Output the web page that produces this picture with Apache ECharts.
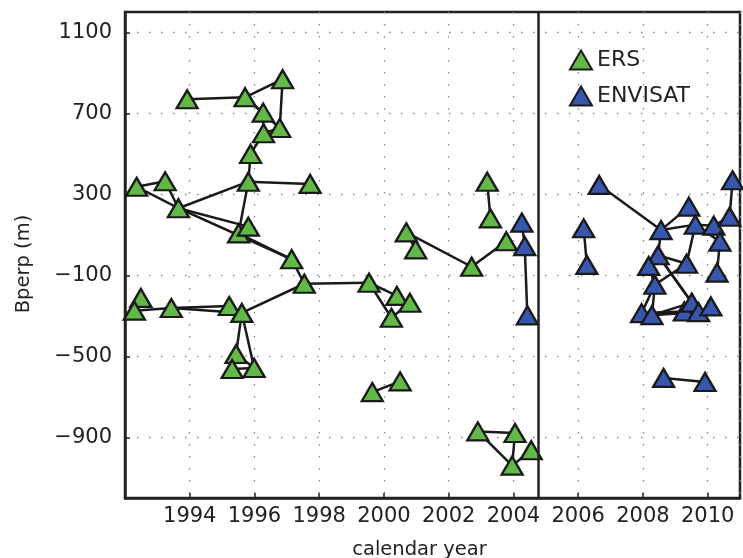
<!DOCTYPE html>
<html>
<head>
<meta charset="utf-8">
<script src="https://cdn.jsdelivr.net/npm/echarts@6/dist/echarts.min.js"></script>
<style>
html,body{margin:0;padding:0;background:#fff;}
#chart{width:743px;height:558px;}
</style>
</head>
<body>
<div id="chart"></div>
<script>
// ERS acquisitions: calendar year and perpendicular baseline (m)
const ersYear = [1992.36,1993.24,1993.65,1993.92,1995.71,1996.87,1996.27,1996.78,1996.28,1995.88,
                 1995.81,1997.72,1995.51,1995.81,1997.15,1997.54,1999.54,2000.40,2000.80,2000.23,
                 1992.49,1992.29,1993.43,1995.22,1995.61,1995.43,1995.31,1995.99,1999.64,2000.50,
                 2000.69,2000.98,2002.71,2003.78,2003.19,2003.29,2002.90,2004.05,2003.96,2004.55];
const ersBperp = [337,364,231,769,779,868,703,627,601,499,
                  362,351,107,140,-21,-142,-137,-202,-236,-310,
                  -212,-275,-262,-252,-286,-489,-563,-558,-677,-624,
                  112,28,-58,68,362,181,-871,-879,-1040,-964];
// interferometric pairs (indices into the ERS arrays)
const ersEdges = [[3,4],[4,5],[5,7],[4,6],[4,7],[6,8],[8,7],[8,9],[9,10],[10,11],[10,2],[10,12],
                  [0,1],[0,2],[1,2],[2,13],[2,14],[12,14],[14,15],[15,16],[15,24],[16,17],[16,19],
                  [19,18],[21,20],[21,22],[22,23],[22,24],[23,24],[24,25],[24,27],[25,27],[26,27],
                  [28,29],[30,31],[30,32],[32,33],[34,35],[36,37],[36,38],[37,38],[38,39]];

// ENVISAT acquisitions
const envYear = [2004.26,2004.35,2004.43,2006.65,2006.17,2006.27,2008.56,2009.42,2009.62,2010.19,
                 2010.38,2010.77,2010.68,2010.29,2008.47,2008.18,2009.35,2008.37,2007.96,2008.28,
                 2009.28,2009.51,2009.72,2010.10,2008.64,2009.92];
const envBperp = [160,44,-298,346,132,-49,123,239,150,145,
                  66,369,189,-87,-1,-54,-43,-147,-287,-297,
                  -279,-235,-282,-254,-607,-627];
const envEdges = [[0,1],[1,2],[3,6],[4,5],[6,7],[6,8],[8,9],[8,10],[9,10],[9,12],[12,11],[10,13],
                  [8,16],[6,14],[14,16],[14,15],[14,21],[14,22],[16,17],[15,17],[17,18],[17,19],
                  [18,20],[19,20],[19,22],[19,21],[20,21],[22,23],[24,25]];

const sensorSwitchYear = 2004.76;
const yTicks = [-900,-500,-100,300,700,1100];
const seriesNames = ['ERS','ENVISAT'];

const font = 'DejaVu Sans';
const ink = '#222';

function pts(xs, ys){ return xs.map((x,i)=>[x, ys[i]]); }
function edges(xs, ys, e){ return e.map(([a,b])=>({coords:[[xs[a],ys[a]],[xs[b],ys[b]]]})); }

const lineData = edges(ersYear, ersBperp, ersEdges).concat(edges(envYear, envBperp, envEdges));

const chart = echarts.init(document.getElementById('chart'));
chart.setOption({
  animation:false,
  textStyle:{fontFamily:font},
  grid:{left:125,right:3,top:12,bottom:60,show:true,borderColor:ink,borderWidth:2.5,
        containLabel:false,outerBoundsMode:'none'},
  legend:{
    orient:'vertical', left:564, top:44, itemWidth:22, itemHeight:19, itemGap:14,
    data:seriesNames,
    textStyle:{fontSize:22,color:ink,fontFamily:font}
  },
  xAxis:{
    type:'value', min:1992, max:2011, interval:2,
    name:'calendar year', nameLocation:'middle', nameGap:42,
    nameTextStyle:{fontSize:19.5,color:ink,fontFamily:font,padding:[0,26,0,0]},
    axisLine:{onZero:false,lineStyle:{color:ink,width:2.5}},
    axisTick:{inside:true,length:5,lineStyle:{color:ink,width:1.5}},
    axisLabel:{fontSize:21,color:ink,margin:8,fontFamily:font,showMinLabel:false,showMaxLabel:false,
      formatter:v=> (v%2===0 && v!==1992) ? String(v) : ''},
    splitLine:{show:true,lineStyle:{color:'#888',width:1.3,type:[1.5,10.5]}}
  },
  yAxis:{
    type:'value', min:-1200, max:1200,
    name:'Bperp (m)', nameLocation:'middle', nameGap:91, nameRotate:90,
    nameTextStyle:{fontSize:19.5,color:ink,fontFamily:font,padding:[0,18,0,0]},
    axisLine:{onZero:false,lineStyle:{color:ink,width:2.5}},
    axisTick:{inside:true,length:5,customValues:yTicks,lineStyle:{color:ink,width:1.5}},
    axisLabel:{fontSize:21,color:ink,margin:13,fontFamily:font,customValues:yTicks,
      formatter:v=> v<0 ? '\u2212'+Math.abs(v) : String(v)},
    splitLine:{show:true,lineStyle:{color:'#888',width:1.3,type:[1.5,10.5]}}
  },
  series:[
    {
      type:'lines', coordinateSystem:'cartesian2d', z:2, silent:true,
      lineStyle:{color:'#1a1a1a',width:2.5,opacity:1},
      data:lineData
    },
    {
      name:seriesNames[0], type:'scatter', z:3, symbol:'triangle', symbolSize:[21,18],
      itemStyle:{color:'#62b946',borderColor:'#1a1a1a',borderWidth:2.3,opacity:1},
      data:pts(ersYear, ersBperp),
      markLine:{silent:true,symbol:'none',label:{show:false},
        lineStyle:{color:ink,type:'solid',width:2.5},
        data:[{xAxis:sensorSwitchYear}]}
    },
    {
      name:seriesNames[1], type:'scatter', z:3, symbol:'triangle', symbolSize:[21,18],
      itemStyle:{color:'#3657ad',borderColor:'#1a1a1a',borderWidth:2.3,opacity:1},
      data:pts(envYear, envBperp)
    }
  ]
});
</script>
</body>
</html>
